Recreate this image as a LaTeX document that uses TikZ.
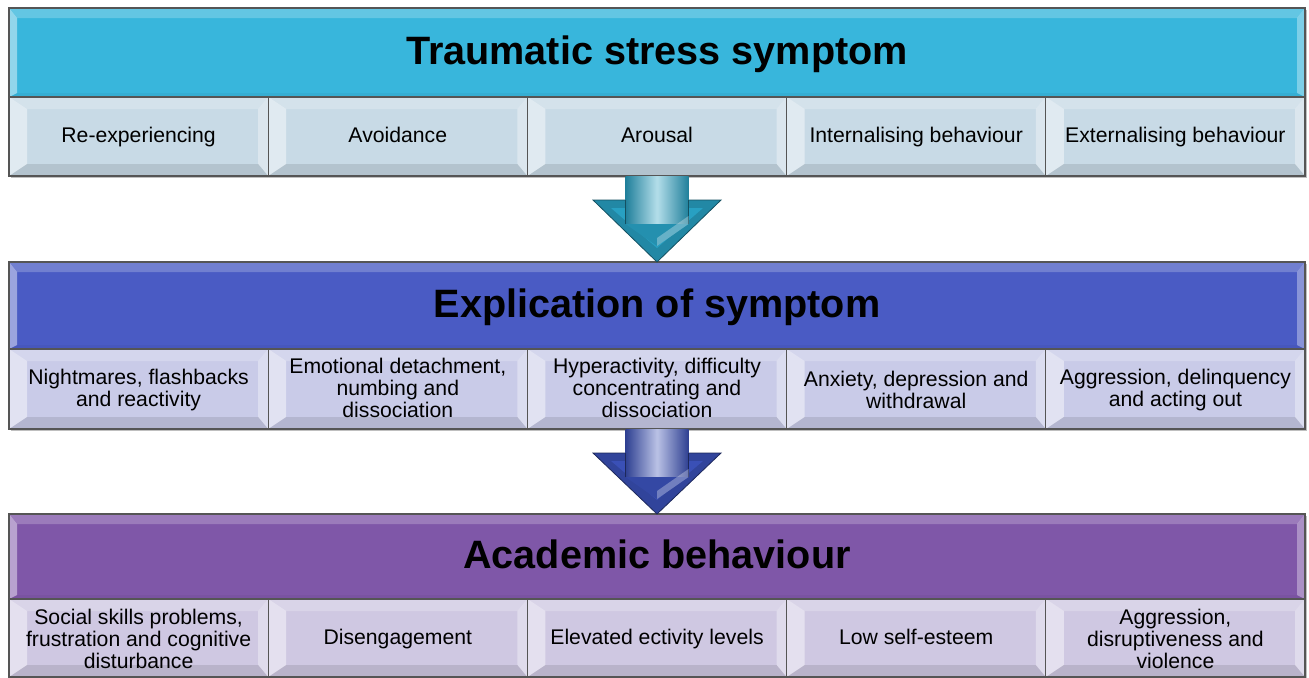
\documentclass[tikz,border=0pt]{standalone}
\usepackage{fontspec}
\setmainfont{Liberation Sans}
\usetikzlibrary{calc,shadows}

\definecolor{hdrA}{RGB}{56,182,220}
\definecolor{cellA}{RGB}{200,218,230}
\definecolor{hdrB}{RGB}{74,91,196}
\definecolor{cellB}{RGB}{201,203,232}
\definecolor{hdrC}{RGB}{127,87,168}
\definecolor{cellC}{RGB}{207,200,226}
\definecolor{arrA}{RGB}{40,160,194}
\definecolor{arrB}{RGB}{58,80,182}
\definecolor{edge}{RGB}{85,85,85}

\tikzset{
  % raised panel: light left/top/right facets, dark bottom facet
  bevelbox/.style n args={5}{path picture={
    \coordinate (bnw) at (path picture bounding box.north west);
    \coordinate (bne) at (path picture bounding box.north east);
    \coordinate (bsw) at (path picture bounding box.south west);
    \coordinate (bse) at (path picture bounding box.south east);
    \coordinate (inw) at ($(bnw)+(#1pt,-#3pt)$);
    \coordinate (ine) at ($(bne)+(-#2pt,-#3pt)$);
    \coordinate (isw) at ($(bsw)+(#1pt,#4pt)$);
    \coordinate (ise) at ($(bse)+(-#2pt,#4pt)$);
    \fill[white,opacity=.45] (bnw) -- (bsw) -- (isw) -- (inw) -- cycle;
    \fill[white,opacity=.22] (bnw) -- (bne) -- (ine) -- (inw) -- cycle;
    \fill[white,opacity=.35] (bne) -- (bse) -- (ise) -- (ine) -- cycle;
    \fill[black,opacity=#5] (bsw) -- (bse) -- (ise) -- (isw) -- cycle;
  }},
  panel/.style={draw=edge, line width=.6pt, inner sep=0pt, outer sep=0pt,
    align=center, execute at end node=\strut,
    drop shadow={shadow xshift=.8pt, shadow yshift=-1.2pt, opacity=.25, fill=black}},
  hdr/.style={panel, minimum width=648pt,
    execute at begin node={\vrule width0pt height18.4pt depth0pt},
    font=\bfseries\fontsize{19.8}{22}\selectfont, bevelbox={4}{4}{5}{2}{0.04}},
  cell/.style={panel, minimum width=129.6pt, minimum height=39.5pt,
    execute at begin node={\vrule width0pt height9.7pt depth0pt},
    font=\fontsize{10.6}{11}\selectfont, bevelbox={9}{5}{6}{6}{0.10}},
  % text of a cell that runs over several lines
  mtext/.style={inner sep=0pt, align=center, yshift=-0.5pt,
    font=\fontsize{10.6}{11}\selectfont},
}

\begin{document}
\begin{tikzpicture}[x=0.5pt,y=-0.5pt]
  \fill[white] (0,0) rectangle (1309,677);
  \useasboundingbox (0,0) rectangle (1309,677);

  % ---- first band ----
  \node[hdr, fill=hdrA, minimum height=44.5pt] (h1) at (657,52.5) {Traumatic stress symptom};
  \node[cell, fill=cellA] (a1) at (138.6,136.5) {Re-experiencing};
  \node[cell, fill=cellA] (a2) at (397.8,136.5) {Avoidance};
  \node[cell, fill=cellA] (a3) at (657,136.5) {Arousal};
  \node[cell, fill=cellA] (a4) at (916.2,136.5) {Internalising behaviour};
  \node[cell, fill=cellA] (a5) at (1175.4,136.5) {Externalising behaviour};

  % ---- second band ----
  \node[hdr, fill=hdrB, minimum height=43.5pt] (h2) at (657,305.5) {Explication of symptom};
  \node[cell, fill=cellB, minimum height=40pt] (b1) at (138.6,389) {};
  \node[cell, fill=cellB, minimum height=40pt] (b2) at (397.8,389) {};
  \node[cell, fill=cellB, minimum height=40pt] (b3) at (657,389) {};
  \node[cell, fill=cellB, minimum height=40pt] (b4) at (916.2,389) {};
  \node[cell, fill=cellB, minimum height=40pt] (b5) at (1175.4,389) {};
  \node[mtext] (b1t) at (b1) {Nightmares, flashbacks\\and reactivity};
  \node[mtext, yshift=1pt] (b2t) at (b2) {Emotional detachment,\\numbing and\\dissociation};
  \node[mtext, yshift=1pt] (b3t) at (b3) {Hyperactivity, difficulty\\concentrating and\\dissociation};
  \node[mtext] (b4t) at (b4) {Anxiety, depression and\\withdrawal};
  \node[mtext] (b5t) at (b5) {Aggression, delinquency\\and acting out};

  % ---- third band ----
  \node[hdr, fill=hdrC, minimum height=42.5pt] (h3) at (657,556.5) {Academic behaviour};
  \node[cell, fill=cellC, minimum height=39pt] (c1) at (138.6,638) {};
  \node[cell, fill=cellC, minimum height=39pt] (c2) at (397.8,638) {Disengagement};
  \node[cell, fill=cellC, minimum height=39pt] (c3) at (657,638) {Elevated ectivity levels};
  \node[cell, fill=cellC, minimum height=39pt] (c4) at (916.2,638) {Low self-esteem};
  \node[cell, fill=cellC, minimum height=39pt] (c5) at (1175.4,638) {};
  \node[mtext] (c1t) at (c1) {Social skills problems,\\frustration and cognitive\\disturbance};
  \node[mtext] (c5t) at (c5) {Aggression,\\disruptiveness and\\violence};

  % ---- block arrows between bands ----
  \foreach \src/\dst/\col in {a3/h2/arrA, b3/h3/arrB}{
    % head: darker outer rim, lighter inner facet
    \fill[\col!85!black, draw=\col!50!black, line width=.4pt]
      ($(\src.south)+(-64,24)$) -- (\dst.north) -- ($(\src.south)+(64,24)$) -- cycle;
    \fill[\col]
      ($(\src.south)+(-46,32)$) -- ($(\dst.north)+(0,-14)$) -- ($(\src.south)+(46,32)$) -- cycle;
    % shaft
    \shade[left color=\col!80!black, right color=\col!80!black, middle color=\col!35!white]
      ($(\src.south)+(-31.5,0)$) rectangle ($(\src.south)+(31.5,48)$);
    \draw[\col!50!black, line width=.4pt]
      ($(\src.south)+(-31.5,24)$) -- ($(\src.south)+(-31.5,48)$)
      ($(\src.south)+(31.5,24)$) -- ($(\src.south)+(31.5,48)$);
    % pointed lower end of the shaft
    \fill[\col!90!black]
      ($(\src.south)+(-31.5,48)$) -- ($(\src.south)+(31.5,48)$) -- ($(\src.south)+(0,70)$) -- cycle;
    \fill[white,opacity=.3]
      ($(\src.south)+(31.5,40)$) -- ($(\src.south)+(31.5,48)$) -- ($(\src.south)+(0,70)$) -- ($(\src.south)+(0,62)$) -- cycle;
  }
\end{tikzpicture}
\end{document}
